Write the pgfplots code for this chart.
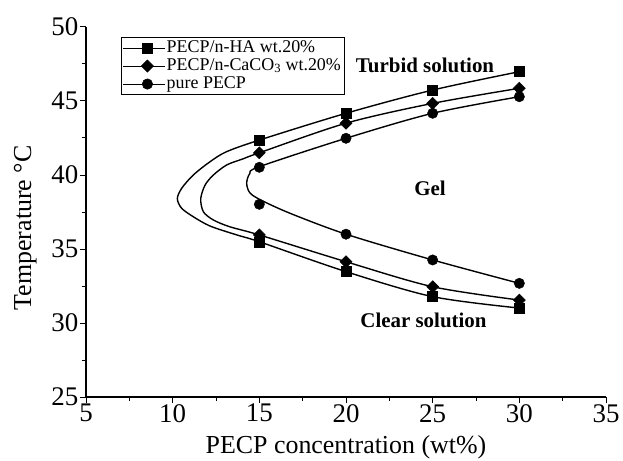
\documentclass[border=0pt]{standalone}
\usepackage{pgfplots}
\pgfplotsset{compat=1.18}
\usepackage{fontspec}
\setmainfont{Liberation Serif}

\begin{document}
\begin{tikzpicture}
\useasboundingbox (-86bp,-64bp) rectangle (537bp,397bp);
\begin{axis}[
  scale only axis, width=520bp, height=370bp,
  xmin=5, xmax=35, ymin=25, ymax=50,
  xtick={5,10,...,35}, ytick={25,30,...,50},
  minor tick num=1,
  axis x line*=bottom, axis y line*=left,
  tick align=outside,
  major tick length=6bp, minor tick length=4bp,
  axis line style={line width=1.1pt},
  every tick/.style={line width=1pt, black},
  tick label style={font=\fontsize{27}{27}\selectfont},
  xticklabel style={inner sep=1bp},
  yticklabel style={inner sep=1.5bp},
  /pgf/number format/assume math mode=true,
  xlabel={PECP concentration (wt\%)},
  ylabel={Temperature \textdegree C},
  label style={font=\fontsize{26}{26}\selectfont},
  xlabel style={at={(axis description cs:0.5,-0.135)}, anchor=center},
  ylabel style={at={(axis description cs:-0.117,0.457)}, anchor=center},
  legend style={at={(axis description cs:0.067,0.973)}, anchor=north west,
    draw=black, line width=0.6pt, font=\fontsize{18}{18}\selectfont,
    inner sep=2bp, row sep=0.5bp, cells={anchor=west},
    nodes={inner sep=1bp, text height=12bp, text depth=3.5bp}},
  legend image code/.code={%
    \path (0bp,0bp) -- (42bp,0bp);
    \draw[black, line width=1pt] (11bp,0bp) -- (37bp,0bp);
    \draw[#1] plot coordinates {(24bp,0bp)};},
]
% fitted curves
\addplot[black, line width=1.4pt, smooth, forget plot] coordinates {
  (30,46.98) (25,45.74) (20,44.17) (15,42.36) (13.1,41.57) (12.16,40.9) (11.19,40.0)
  (10.52,39.1) (10.27,38.4) (10.52,37.75) (11.19,37.18) (12.16,36.55) (13.7,35.95)
  (15,35.49) (20,33.47) (25,31.78) (30,31.01)};
\addplot[black, line width=1.4pt, smooth, forget plot] coordinates {
  (30,45.86) (25,44.84) (20,43.5) (15,41.5) (14.08,41.1) (13.12,40.68) (12.35,40.0)
  (11.87,39.32) (11.62,38.4) (11.77,37.52) (12.35,36.96) (13.3,36.5)
  (15,35.95) (20,34.14) (25,32.45) (30,31.55)};
\addplot[black, line width=1.4pt, smooth, forget plot] coordinates {
  (30,45.29) (25,44.17) (20,42.48) (15,40.56) (14.45,40.1) (14.27,39.45)
  (14.45,38.8) (15.1,38.3) (16.8,37.4) (20,36.0) (25,34.26) (30,32.68)};
% measured points
\addplot[only marks, mark=square*, mark size=5bp, black] coordinates {
  (15,42.36) (20,44.17) (25,45.74) (30,46.98)
  (15,35.49) (20,33.47) (25,31.78) (30,31.01)};
\addlegendentry{PECP/n-HA wt.20\%}
\addplot[only marks, mark=square*, mark size=4.3bp, mark options={rotate=45}, black] coordinates {
  (15,41.5) (20,43.5) (25,44.84) (30,45.86)
  (15,35.95) (20,34.14) (25,32.45) (30,31.55)};
\addlegendentry{PECP/n-CaCO\textsubscript{3} wt.20\%}
\addplot[only marks, mark=*, mark size=5.2bp, black] coordinates {
  (15,40.52) (20,42.48) (25,44.17) (30,45.29)
  (15,38.02) (20,36.0) (25,34.26) (30,32.68)};
\addlegendentry{pure PECP}
\node[font=\bfseries\fontsize{21}{21}\selectfont] at (axis cs:24.56,47.43) {Turbid solution};
\node[font=\bfseries\fontsize{21}{21}\selectfont] at (axis cs:24.85,39.1) {Gel};
\node[font=\bfseries\fontsize{21}{21}\selectfont] at (axis cs:24.47,30.2) {Clear solution};
\end{axis}
\end{tikzpicture}
\end{document}
